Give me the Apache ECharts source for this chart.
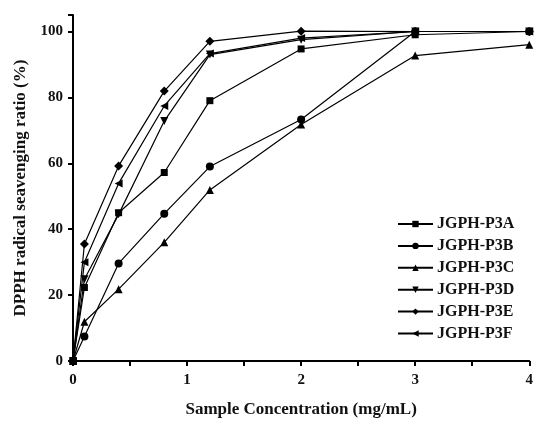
<!DOCTYPE html>
<html><head><meta charset="utf-8">
<script src="https://cdn.jsdelivr.net/npm/echarts@6/dist/echarts.min.js"></script>
<style>html,body{margin:0;padding:0;background:#fff}#c{width:536px;height:423px}</style>
</head><body><div id="c"></div>
<script>
var concentrations = [0, 0.1, 0.4, 0.8, 1.2, 2, 3, 4];
var seriesNames = ['JGPH-P3A','JGPH-P3B','JGPH-P3C','JGPH-P3D','JGPH-P3E','JGPH-P3F'];
var p3A = [0, 22.3, 45, 57.2, 79, 94.7, 99, 100];
var p3B = [0, 7.4, 29.6, 44.7, 59, 73.3, 100, 100];
var p3C = [0, 11.9, 21.8, 36, 51.9, 71.8, 92.7, 96];
var p3D = [0, 24.8, 44.5, 72.8, 93, 97.5, 100, 100];
var p3E = [0, 35.5, 59.2, 81.9, 97, 100.1, 100, 100];
var p3F = [0, 30, 53.9, 77.4, 93.3, 98, 100, 100];
var xTickLabels = ['0','1','2','3','4'];
var yTickLabels = ['0','20','40','60','80','100'];

var allValues = [p3A, p3B, p3C, p3D, p3E, p3F];
var symbols = ['rect','circle','triangle','triangle','diamond','triangle'];
var rotates = [0, 0, 0, 180, 0, 90];
var sizes = [7, 8, 8, 8, 9, 8];
var font = '"Liberation Serif", "Times New Roman", serif';

var series = allValues.map(function(vals, i){
  return {
    name: seriesNames[i], type: 'line',
    data: concentrations.map(function(x, j){ return [x, vals[j]]; }),
    symbol: symbols[i], symbolRotate: rotates[i], symbolSize: sizes[i],
    showSymbol: true,
    itemStyle: {color: '#000'},
    lineStyle: {color: '#000', width: 1.2},
    animation: false
  };
});

var chart = echarts.init(document.getElementById('c'));
chart.setOption({
  backgroundColor: '#fff',
  animation: false,
  grid: {left: 73, right: 4, top: 15, bottom: 61},
  legend: {
    orient: 'vertical', left: 392, top: 211, itemGap: 5.9,
    itemWidth: 35, itemHeight: 8,
    data: seriesNames,
    textStyle: {fontFamily: font, fontWeight: 'bold', fontSize: 16, lineHeight: 14, color: '#111', padding: [0,0,0,-1]}
  },
  xAxis: {
    type: 'value', min: 0, max: 4, interval: 0.5,
    name: 'Sample Concentration (mg/mL)', nameLocation: 'middle', nameGap: 40,
    nameTextStyle: {fontFamily: font, fontWeight: 'bold', fontSize: 17, color: '#111'},
    axisLine: {show: true, onZero: false, lineStyle: {color: '#000', width: 2}},
    axisTick: {show: true, length: 5, lineStyle: {color: '#000', width: 2}},
    axisLabel: {fontFamily: font, fontWeight: 'bold', fontSize: 15, color: '#111', margin: 12,
      formatter: function(v){ var s = String(v); return xTickLabels.indexOf(s) >= 0 ? s : ''; }},
    splitLine: {show: false}
  },
  yAxis: {
    type: 'value', min: 0, max: 105, interval: 20,
    name: 'DPPH radical seavenging ratio (%)', nameLocation: 'middle', nameGap: 42,
    nameTextStyle: {fontFamily: font, fontWeight: 'bold', fontSize: 17, color: '#111'},
    axisLine: {show: true, onZero: false, lineStyle: {color: '#000', width: 2}},
    axisTick: {show: true, length: 5, lineStyle: {color: '#000', width: 2}},
    axisLabel: {fontFamily: font, fontWeight: 'bold', fontSize: 15, color: '#111', margin: 10,
      formatter: function(v){ var s = String(v); return yTickLabels.indexOf(s) >= 0 ? s : ''; }},
    splitLine: {show: false}
  },
  series: series
});
</script></body></html>
